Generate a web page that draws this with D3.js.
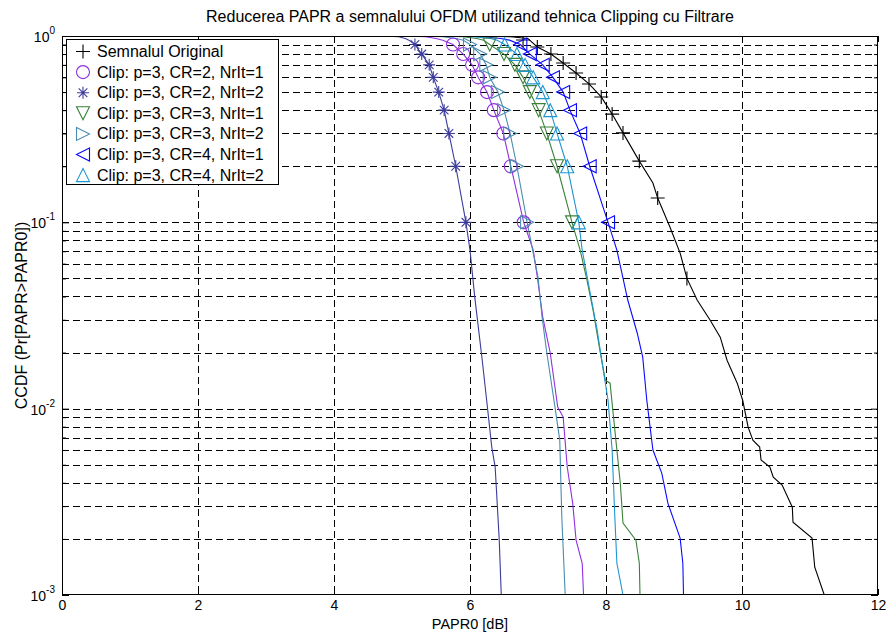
<!DOCTYPE html>
<html><head><meta charset="utf-8">
<script src="https://cdn.jsdelivr.net/npm/d3@7"></script>
<style>
html,body{margin:0;padding:0;background:#fff;}
svg{display:block;font-family:"Liberation Sans",Arial,sans-serif;}
</style></head>
<body><svg id="c" width="887" height="633"></svg>
<script>
// ---------- DATA (PAPR0 in dB, CCDF probability) ----------
const titleText = "Reducerea PAPR a semnalului OFDM utilizand tehnica Clipping cu Filtrare";
const xLabelText = "PAPR0 [dB]";
const yLabelText = "CCDF (Pr[PAPR>PAPR0])";
const xTicks = [0, 2, 4, 6, 8, 10, 12];
const yDecades = [1e-3, 1e-2, 1e-1, 1];
const yDecadeExp = ["-3", "-2", "-1", "0"];

const legendLabels = [
  "Semnalul Original",
  "Clip: p=3, CR=2, NrIt=1",
  "Clip: p=3, CR=2, NrIt=2",
  "Clip: p=3, CR=3, NrIt=1",
  "Clip: p=3, CR=3, NrIt=2",
  "Clip: p=3, CR=4, NrIt=1",
  "Clip: p=3, CR=4, NrIt=2"
];
const seriesColors = ["#000000", "#9030e0", "#3c3c9c", "#3a803a", "#4a8cb0", "#0a0aff", "#1e96d2"];
const seriesMarkers = ["plus", "circle", "star", "triDown", "triRight", "triLeft", "triUp"];

// Original signal
const origLine = [[6.0,1],[6.6,0.99],[6.85,0.97],[6.99,0.873],[7.19,0.80],[7.37,0.716],[7.56,0.633],[7.75,0.553],[7.93,0.471],[8.09,0.381],[8.25,0.302],[8.49,0.213],[8.69,0.1625],[8.76,0.135],[8.94,0.0944],[9.09,0.0684],[9.19,0.050],[9.34,0.0383],[9.53,0.0299],[9.68,0.0242],[9.78,0.0182],[9.93,0.0137],[10.01,0.0111],[10.09,0.00796],[10.16,0.00678],[10.26,0.00622],[10.28,0.0053],[10.41,0.00486],[10.46,0.00429],[10.59,0.00389],[10.74,0.00296],[10.75,0.00246],[11.03,0.00202],[11.07,0.00141],[11.21,0.001]];
const origMarks = [[6.78,0.952],[6.99,0.873],[7.19,0.80],[7.37,0.716],[7.56,0.633],[7.75,0.553],[7.93,0.471],[8.09,0.381],[8.25,0.302],[8.49,0.213],[8.76,0.135],[9.19,0.050]];

// CR=2, NrIt=1
const cr2it1Line = [[5.0,1],[5.35,0.99],[5.5,0.97],[5.6,0.95],[5.75,0.9],[5.90,0.8],[6.03,0.7],[6.12,0.6],[6.25,0.5],[6.35,0.4],[6.49,0.3],[6.60,0.2],[6.79,0.1],[6.93,0.071],[6.99,0.0509],[7.07,0.031],[7.18,0.0199],[7.29,0.0102],[7.37,0.00901],[7.43,0.00486],[7.51,0.00311],[7.56,0.00197],[7.65,0.00148],[7.67,0.001]];
const cr2it1Marks = [[5.75,0.9],[5.90,0.8],[6.03,0.7],[6.12,0.6],[6.25,0.5],[6.35,0.4],[6.49,0.3],[6.60,0.2],[6.79,0.1]];

// CR=2, NrIt=2
const cr2it2Line = [[4.7,1],[4.95,0.99],[5.05,0.97],[5.10,0.95],[5.19,0.9],[5.29,0.8],[5.40,0.7],[5.46,0.6],[5.54,0.5],[5.62,0.4],[5.69,0.3],[5.79,0.2],[5.94,0.1],[6.00,0.071],[6.07,0.0397],[6.18,0.0182],[6.25,0.0107],[6.32,0.00622],[6.37,0.00486],[6.40,0.00311],[6.43,0.00197],[6.46,0.001]];
const cr2it2Marks = [[5.19,0.9],[5.29,0.8],[5.40,0.7],[5.46,0.6],[5.54,0.5],[5.62,0.4],[5.69,0.3],[5.79,0.2],[5.94,0.1]];

// CR=3, NrIt=1
const cr3it1Line = [[5.5,1],[5.9,0.99],[6.1,0.97],[6.2,0.95],[6.29,0.9],[6.50,0.8],[6.66,0.7],[6.78,0.6],[6.88,0.5],[7.01,0.4],[7.13,0.3],[7.28,0.2],[7.50,0.1],[7.62,0.071],[7.72,0.049],[7.81,0.0338],[7.91,0.0206],[7.99,0.0142],[8.06,0.0137],[8.10,0.00983],[8.16,0.006],[8.21,0.00399],[8.25,0.00243],[8.44,0.00197],[8.49,0.00148],[8.50,0.001]];
const cr3it1Marks = [[6.29,0.9],[6.50,0.8],[6.66,0.7],[6.78,0.6],[6.88,0.5],[7.01,0.4],[7.13,0.3],[7.28,0.2],[7.50,0.1]];

// CR=3, NrIt=2
const cr3it2Line = [[5.2,1],[5.6,0.99],[5.8,0.97],[5.9,0.95],[6.0,0.9],[6.15,0.8],[6.24,0.7],[6.29,0.6],[6.41,0.5],[6.50,0.4],[6.59,0.3],[6.69,0.2],[6.84,0.1],[7.00,0.0509],[7.06,0.031],[7.13,0.0199],[7.25,0.0102],[7.32,0.00678],[7.35,0.00262],[7.40,0.001]];
const cr3it2Marks = [[6.0,0.9],[6.15,0.8],[6.24,0.7],[6.29,0.6],[6.41,0.5],[6.50,0.4],[6.59,0.3],[6.69,0.2],[6.84,0.1]];

// CR=4, NrIt=1
const cr4it1Line = [[5.8,1],[6.2,0.99],[6.45,0.97],[6.58,0.95],[6.74,0.9],[6.88,0.8],[7.07,0.7],[7.22,0.6],[7.37,0.5],[7.47,0.4],[7.62,0.3],[7.76,0.2],[8.03,0.1],[8.16,0.071],[8.32,0.0383],[8.46,0.0254],[8.54,0.0189],[8.60,0.0111],[8.69,0.006],[8.82,0.00451],[8.91,0.00311],[9.09,0.00202],[9.13,0.00148],[9.14,0.001]];
const cr4it1Marks = [[6.74,0.9],[6.88,0.8],[7.07,0.7],[7.22,0.6],[7.37,0.5],[7.47,0.4],[7.62,0.3],[7.76,0.2],[8.03,0.1]];

// CR=4, NrIt=2
const cr4it2Line = [[5.7,1],[6.05,0.99],[6.3,0.97],[6.4,0.95],[6.51,0.9],[6.69,0.8],[6.81,0.7],[6.93,0.6],[7.07,0.5],[7.18,0.4],[7.28,0.3],[7.43,0.2],[7.60,0.1],[7.65,0.071],[7.74,0.0472],[7.87,0.0264],[7.96,0.0161],[8.03,0.0111],[8.09,0.006],[8.13,0.00262],[8.16,0.00148],[8.25,0.001]];
const cr4it2Marks = [[6.51,0.9],[6.69,0.8],[6.81,0.7],[6.93,0.6],[7.07,0.5],[7.18,0.4],[7.28,0.3],[7.43,0.2],[7.60,0.1]];

const seriesLines = [origLine, cr2it1Line, cr2it2Line, cr3it1Line, cr3it2Line, cr4it1Line, cr4it2Line];
const seriesMarks = [origMarks, cr2it1Marks, cr2it2Marks, cr3it1Marks, cr3it2Marks, cr4it1Marks, cr4it2Marks];

// ---------- DRAW ----------
const svg = d3.select("#c");
const L = 62, R = 878, T = 36, B = 595;
const x = d3.scaleLinear().domain([0, 12]).range([L, R]);
const y = d3.scaleLog().domain([1e-3, 1]).range([B, T]);

const yLevels = [];
for (let e = -3; e < 0; e++) for (let m = 1; m <= 9; m++) yLevels.push(m * Math.pow(10, e));
yLevels.push(1);

// grid
const grid = svg.append("g").attr("stroke", "#000").attr("stroke-width", 1).attr("stroke-dasharray", "7,4").attr("shape-rendering", "crispEdges");
xTicks.slice(1, -1).forEach(v => grid.append("line").attr("x1", x(v)).attr("x2", x(v)).attr("y1", T).attr("y2", B));
yLevels.filter(v => v > 1e-3 && v < 1).forEach(v => grid.append("line").attr("x1", L).attr("x2", R).attr("y1", Math.round(y(v)) + 0.5).attr("y2", Math.round(y(v)) + 0.5));

// axes with inward ticks
const xAxB = d3.axisBottom(x).tickValues(xTicks).tickSize(-6).tickPadding(0).tickFormat(d3.format("d"));
const gx = svg.append("g").attr("transform", `translate(0,${B})`).call(xAxB);
gx.select(".domain").remove();
gx.selectAll("text").attr("font-size", 14).attr("font-family", "Liberation Sans, Arial, sans-serif").attr("fill", "#000").attr("y", 15).attr("dy", null);
const xAxT = d3.axisTop(x).tickValues(xTicks).tickSize(-6).tickFormat("");
const gxt = svg.append("g").attr("transform", `translate(0,${T})`).call(xAxT);
gxt.select(".domain").remove();

const yMinor = yLevels.filter(v => yDecades.indexOf(v) < 0 && v > 1e-3 && v < 1);
const gyl = svg.append("g").attr("transform", `translate(${L},0)`).call(d3.axisLeft(y).tickValues(yMinor).tickSize(-4).tickFormat(""));
gyl.select(".domain").remove();
const gyl2 = svg.append("g").attr("transform", `translate(${L},0)`).call(d3.axisLeft(y).tickValues(yDecades).tickSize(-7).tickFormat(""));
gyl2.select(".domain").remove();
const gyr = svg.append("g").attr("transform", `translate(${R},0)`).call(d3.axisRight(y).tickValues(yMinor).tickSize(-4).tickFormat(""));
gyr.select(".domain").remove();
const gyr2 = svg.append("g").attr("transform", `translate(${R},0)`).call(d3.axisRight(y).tickValues(yDecades).tickSize(-7).tickFormat(""));
gyr2.select(".domain").remove();

// y tick labels 10^k
yDecades.forEach((v, i) => {
  const t = svg.append("text").attr("x", L - 7).attr("y", y(v) + 6).attr("text-anchor", "end").attr("font-size", 14).attr("fill", "#000");
  t.append("tspan").text("10");
  t.append("tspan").attr("dy", -8).attr("font-size", 10).text(yDecadeExp[i]);
});

// clip
svg.append("clipPath").attr("id", "pc").append("rect").attr("x", L).attr("y", T).attr("width", R - L).attr("height", B - T);
const plot = svg.append("g").attr("clip-path", "url(#pc)");

const line = d3.line().x(d => x(d[0])).y(d => y(d[1]));

function markerPath(type, s) {
  const h = s / 2;
  switch (type) {
    case "plus": return `M${-h},0H${h}M0,${-h}V${h}`;
    case "circle": return `M${h},0A${h},${h} 0 1,1 ${-h},0A${h},${h} 0 1,1 ${h},0Z`;
    case "star": {
      const c = h * 0.72;
      return `M${-h},0H${h}M0,${-h}V${h}M${-c},${-c}L${c},${c}M${-c},${c}L${c},${-c}`;
    }
    case "triDown": return `M${-h},${-h}L${h},${-h}L0,${h}Z`;
    case "triUp": return `M${-h},${h}L${h},${h}L0,${-h}Z`;
    case "triRight": return `M${-h},${-h}L${h},0L${-h},${h}Z`;
    case "triLeft": return `M${h},${-h}L${-h},0L${h},${h}Z`;
  }
}
const markerSize = [14, 13, 12, 13, 13, 13, 13];

seriesLines.forEach((ln, i) => {
  plot.append("path").datum(ln).attr("d", line).attr("fill", "none").attr("stroke", seriesColors[i]).attr("stroke-width", 1.1);
});
seriesMarks.forEach((mk, i) => {
  plot.selectAll(null).data(mk).enter().append("path")
    .attr("transform", d => `translate(${x(d[0])},${y(d[1])})`)
    .attr("d", markerPath(seriesMarkers[i], markerSize[i]))
    .attr("fill", "none").attr("stroke", seriesColors[i]).attr("stroke-width", 1.1);
});

// frame
svg.append("rect").attr("x", L + 0.5).attr("y", T + 0.5).attr("width", R - L - 1).attr("height", B - T - 1).attr("fill", "none").attr("stroke", "#000").attr("stroke-width", 1);

// legend
const lg = svg.append("g");
lg.append("rect").attr("x", 66.5).attr("y", 39.5).attr("width", 212).attr("height", 145).attr("fill", "#fff").attr("stroke", "#000").attr("stroke-width", 1);
legendLabels.forEach((lab, i) => {
  const cy = 51.5 + i * 20.6;
  lg.append("path").attr("transform", `translate(83,${cy})`).attr("d", markerPath(seriesMarkers[i], markerSize[i]))
    .attr("fill", "none").attr("stroke", seriesColors[i]).attr("stroke-width", 1.1);
  lg.append("text").attr("x", 97).attr("y", cy + 5.5).attr("font-size", 16).attr("fill", "#000").text(lab);
});

// titles
svg.append("text").attr("x", (L + R) / 2).attr("y", 22).attr("text-anchor", "middle").attr("font-size", 16).attr("fill", "#000").text(titleText);
svg.append("text").attr("x", (L + R) / 2).attr("y", 629).attr("text-anchor", "middle").attr("font-size", 14.5).attr("fill", "#000").text(xLabelText);
svg.append("text").attr("transform", `translate(27,${(T + B) / 2}) rotate(-90)`).attr("text-anchor", "middle").attr("font-size", 16).attr("fill", "#000").text(yLabelText);
</script>
</body></html>
